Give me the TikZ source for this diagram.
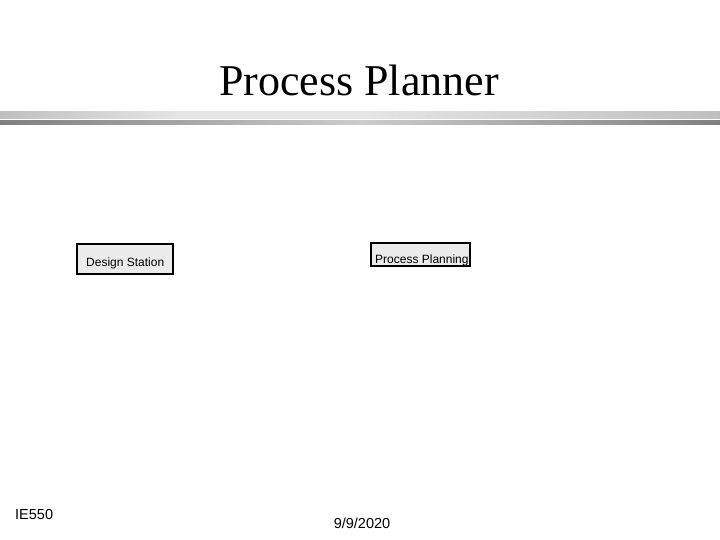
\documentclass[tikz,border=0pt]{standalone}
\usepackage{fontspec}
\setmainfont{Liberation Serif}
\newfontfamily\arialf{Liberation Sans}
\begin{document}
\begin{tikzpicture}[x=1pt,y=-1pt,
  boxst/.style={draw=black,line width=1.6pt,fill=black!8,inner sep=0pt},
  boxtxt/.style={inner sep=0pt,font=\arialf\fontsize{12}{14}\selectfont},
  plain/.style={inner sep=0pt,font=\arialf\fontsize{14.5}{16}\selectfont}]
\useasboundingbox (0,0) rectangle (720,540);
\fill[white] (0,0) rectangle (720,540);
\node[font=\fontsize{44}{50}\selectfont,anchor=base] (title) at (359,96) {Process Planner};
% bars
\shade[left color=black!25,right color=black!10,middle color=black!10] (0,112) rectangle (360,119);
\shade[left color=black!10,right color=black!25] (360,112) rectangle (720,119);
\shade[left color=black!50,right color=black!20] (0,121) rectangle (360,125);
\shade[left color=black!20,right color=black!50] (360,121) rectangle (720,125);
% boxes
\node[boxst,minimum width=96pt,minimum height=30pt,anchor=north west] (ds) at (76,243) {};
\node[boxtxt,anchor=base west] (dst) at (86,266) {Design Station};
\node[boxst,minimum width=99pt,minimum height=23pt,anchor=north west] (pp) at (370,242) {};
\node[boxtxt,anchor=base west] (ppt) at (375,263) {Process Planning};
% footer
\node[plain,anchor=base west] (ie) at (15,519) {IE550};
\node[plain,anchor=base] (date) at (362,528) {9/9/2020};
\end{tikzpicture}
\end{document}
